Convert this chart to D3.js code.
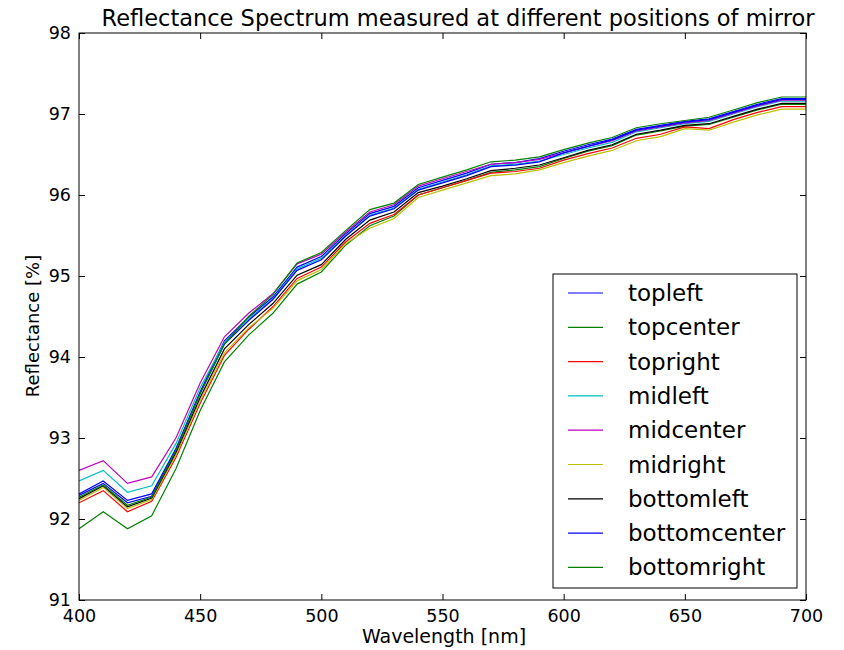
<!DOCTYPE html>
<html>
<head>
<meta charset="utf-8">
<script src="https://cdn.jsdelivr.net/npm/d3@7"></script>
<style>
  body { margin: 0; background: #fff; }
  svg text { font-family: "DejaVu Sans", sans-serif; fill: #000; }
</style>
</head>
<body>
<div id="chart"></div>
<script>
// wavelengths [nm]
const wavelengths = d3.range(400, 701, 10);

// reflectance [%] per mirror position
const topleft      = [92.31, 92.47, 92.23, 92.31, 92.87, 93.57, 94.20, 94.49, 94.74, 95.11, 95.24, 95.52, 95.77, 95.86, 96.09, 96.18, 96.27, 96.38, 96.40, 96.45, 96.54, 96.62, 96.69, 96.81, 96.86, 96.91, 96.94, 97.03, 97.12, 97.19, 97.19];
const topcenter    = [91.88, 92.09, 91.88, 92.04, 92.62, 93.34, 93.94, 94.27, 94.54, 94.90, 95.05, 95.38, 95.62, 95.74, 96.00, 96.09, 96.18, 96.28, 96.31, 96.35, 96.45, 96.54, 96.61, 96.74, 96.79, 96.85, 96.87, 96.96, 97.05, 97.12, 97.12];
const topright     = [92.20, 92.35, 92.09, 92.22, 92.76, 93.43, 94.02, 94.34, 94.62, 94.97, 95.11, 95.42, 95.65, 95.76, 96.00, 96.09, 96.18, 96.27, 96.29, 96.33, 96.43, 96.51, 96.58, 96.70, 96.75, 96.84, 96.82, 96.93, 97.02, 97.09, 97.09];
const midleft      = [92.47, 92.60, 92.33, 92.41, 92.93, 93.62, 94.18, 94.47, 94.72, 95.09, 95.22, 95.50, 95.75, 95.84, 96.07, 96.16, 96.25, 96.36, 96.38, 96.42, 96.50, 96.58, 96.65, 96.78, 96.83, 96.88, 96.91, 97.00, 97.09, 97.16, 97.16];
const midcenter    = [92.60, 92.72, 92.44, 92.52, 93.00, 93.68, 94.25, 94.54, 94.78, 95.15, 95.27, 95.54, 95.79, 95.88, 96.11, 96.20, 96.29, 96.38, 96.40, 96.44, 96.52, 96.60, 96.67, 96.79, 96.84, 96.89, 96.92, 97.01, 97.10, 97.17, 97.17];
const midright     = [92.23, 92.39, 92.13, 92.24, 92.79, 93.46, 94.05, 94.36, 94.60, 94.94, 95.08, 95.40, 95.59, 95.71, 95.97, 96.06, 96.15, 96.24, 96.26, 96.31, 96.40, 96.48, 96.55, 96.67, 96.72, 96.82, 96.80, 96.90, 96.99, 97.06, 97.06];
const bottomleft   = [92.25, 92.41, 92.15, 92.26, 92.82, 93.50, 94.10, 94.40, 94.66, 95.01, 95.14, 95.45, 95.69, 95.79, 96.03, 96.11, 96.20, 96.30, 96.33, 96.37, 96.46, 96.55, 96.62, 96.75, 96.80, 96.86, 96.88, 96.97, 97.06, 97.13, 97.13];
const bottomcenter = [92.29, 92.44, 92.20, 92.28, 92.85, 93.55, 94.16, 94.45, 94.71, 95.07, 95.20, 95.49, 95.74, 95.83, 96.06, 96.15, 96.24, 96.35, 96.37, 96.41, 96.52, 96.60, 96.68, 96.80, 96.85, 96.90, 96.93, 97.02, 97.11, 97.18, 97.18];
const bottomright  = [92.27, 92.42, 92.17, 92.27, 92.85, 93.55, 94.16, 94.50, 94.77, 95.16, 95.29, 95.56, 95.82, 95.90, 96.13, 96.22, 96.31, 96.41, 96.43, 96.47, 96.56, 96.64, 96.71, 96.83, 96.88, 96.92, 96.96, 97.05, 97.14, 97.21, 97.21];

const seriesNames = ["topleft", "topcenter", "topright", "midleft", "midcenter", "midright", "bottomleft", "bottomcenter", "bottomright"];
const seriesValues = [topleft, topcenter, topright, midleft, midcenter, midright, bottomleft, bottomcenter, bottomright];
const seriesColors = ["#0000ff", "#008000", "#ff0000", "#00bfbf", "#bf00bf", "#bfbf00", "#000000", "#0000ff", "#008000"];

const xTicks = [400, 450, 500, 550, 600, 650, 700];
const yTicks = [91, 92, 93, 94, 95, 96, 97, 98];

const width = 844, height = 650;
const margin = { top: 33, right: 38, bottom: 50, left: 79 };
const innerW = width - margin.left - margin.right;
const innerH = height - margin.top - margin.bottom;

const svg = d3.select("#chart").append("svg")
    .attr("width", width)
    .attr("height", height);

const g = svg.append("g")
    .attr("transform", `translate(${margin.left},${margin.top})`);

const x = d3.scaleLinear().domain([400, 700]).range([0, innerW]);
const y = d3.scaleLinear().domain([91, 98]).range([innerH, 0]);

svg.append("defs").append("clipPath")
    .attr("id", "plot-clip")
    .append("rect")
    .attr("width", innerW)
    .attr("height", innerH);

// lines
const line = d3.line()
    .x((d, i) => x(wavelengths[i]))
    .y(d => y(d));

g.append("g")
    .attr("clip-path", "url(#plot-clip)")
    .selectAll("path.series")
    .data(seriesValues)
    .enter()
    .append("path")
    .attr("class", "series")
    .attr("d", line)
    .attr("fill", "none")
    .attr("stroke", (d, i) => seriesColors[i])
    .attr("stroke-width", 1.2);

// axes, ticks pointing inward (matplotlib classic)
const tickLen = 6;
g.append("g")
    .attr("transform", `translate(0,${innerH})`)
    .call(d3.axisBottom(x).tickValues(xTicks).tickSizeInner(-tickLen).tickSizeOuter(0).tickPadding(10).tickFormat(d3.format("d")))
    .call(a => a.select(".domain").remove())
    .call(a => a.selectAll("text").style("font-size", "17.5px").attr("font-family", "DejaVu Sans"));

g.append("g")
    .call(d3.axisTop(x).tickValues(xTicks).tickSizeInner(-tickLen).tickSizeOuter(0).tickFormat(""))
    .call(a => a.select(".domain").remove());

g.append("g")
    .call(d3.axisLeft(y).tickValues(yTicks).tickSizeInner(-tickLen).tickSizeOuter(0).tickPadding(8).tickFormat(d3.format("d")))
    .call(a => a.select(".domain").remove())
    .call(a => a.selectAll("text").style("font-size", "17.5px").attr("font-family", "DejaVu Sans"));

g.append("g")
    .attr("transform", `translate(${innerW},0)`)
    .call(d3.axisRight(y).tickValues(yTicks).tickSizeInner(-tickLen).tickSizeOuter(0).tickFormat(""))
    .call(a => a.select(".domain").remove());

g.append("rect")
    .attr("width", innerW)
    .attr("height", innerH)
    .attr("fill", "none")
    .attr("stroke", "#000")
    .attr("stroke-width", 1);

// title and labels
svg.append("text")
    .attr("x", 458)
    .attr("y", 26)
    .attr("text-anchor", "middle")
    .style("font-size", "22.5px")
    .text("Reflectance Spectrum measured at different positions of mirror");

svg.append("text")
    .attr("x", 444)
    .attr("y", 643)
    .attr("text-anchor", "middle")
    .style("font-size", "19px")
    .text("Wavelength [nm]");

svg.append("text")
    .attr("transform", "rotate(-90)")
    .attr("x", -326)
    .attr("y", 39)
    .attr("text-anchor", "middle")
    .style("font-size", "18px")
    .text("Reflectance [%]");

// legend
const legend = g.append("g")
    .attr("transform", `translate(${553 - margin.left},${274 - margin.top})`);

legend.append("rect")
    .attr("width", 244)
    .attr("height", 314)
    .attr("fill", "#fff")
    .attr("stroke", "#000")
    .attr("stroke-width", 1);

const rowH = 34.3;
const item = legend.selectAll("g.item")
    .data(seriesNames)
    .enter()
    .append("g")
    .attr("class", "item")
    .attr("transform", (d, i) => `translate(0,${19 + i * rowH})`);

item.append("line")
    .attr("x1", 15)
    .attr("x2", 50)
    .attr("stroke", (d, i) => seriesColors[i])
    .attr("stroke-width", 1.2);

item.append("text")
    .attr("x", 75)
    .attr("dy", "0.35em")
    .style("font-size", "23px")
    .text(d => d);
</script>
</body>
</html>
